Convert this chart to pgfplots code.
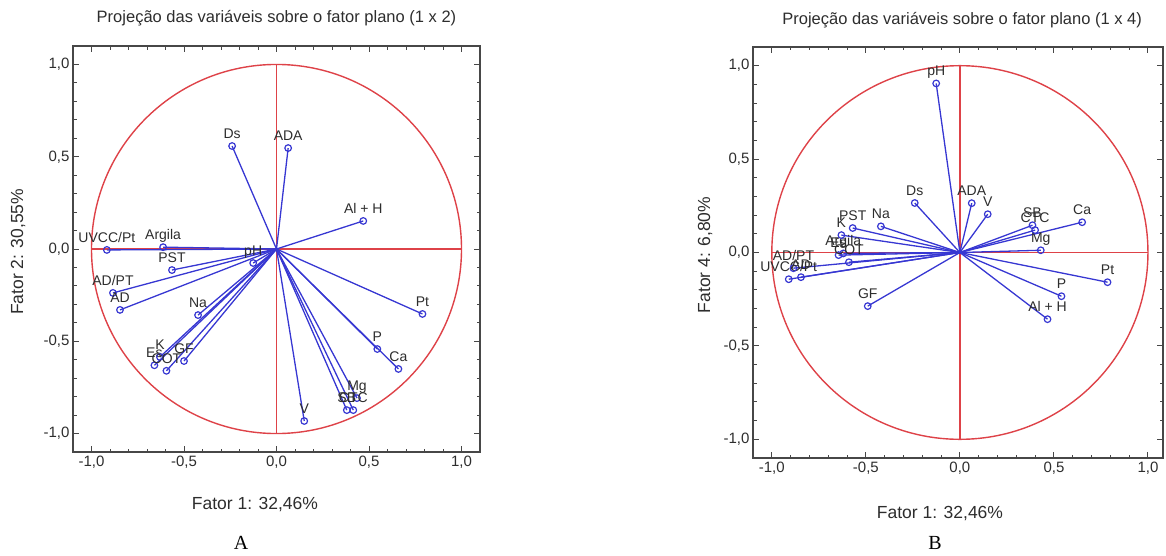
\documentclass[border=0pt]{standalone}
\usepackage{pgfplots}
\pgfplotsset{compat=1.18}
\usepackage{pgfplotstable}
\usepackage{fontspec}
\setmainfont{Liberation Sans}
\newfontfamily\serifA{Liberation Serif}

\definecolor{circred}{RGB}{222,66,72}
\definecolor{vecblue}{RGB}{55,55,210}
\definecolor{txtgray}{RGB}{45,45,45}

% Fator 1 x Fator 2
\pgfplotstableread{
label x y
UVCC/Pt -0.917 -0.005
Argila -0.613 0.010
PST -0.565 -0.114
AD/PT -0.884 -0.238
AD -0.846 -0.330
Na -0.424 -0.358
pH -0.126 -0.076
Es -0.660 -0.630
K -0.630 -0.585
COT -0.595 -0.660
GF -0.500 -0.607
Ds -0.240 0.558
ADA 0.063 0.547
{Al + H} 0.469 0.152
Pt 0.789 -0.352
P 0.545 -0.542
Ca 0.659 -0.650
V 0.150 -0.932
Mg 0.435 -0.808
SB 0.380 -0.873
CTC 0.415 -0.873
}\fatorA

% Fator 1 x Fator 4
\pgfplotstableread{
label x y
UVCC/Pt -0.910 -0.143
Argila -0.620 -0.005
PST -0.570 0.131
AD/PT -0.885 -0.084
AD -0.845 -0.132
Na -0.420 0.140
pH -0.126 0.905
Es -0.645 -0.014
K -0.630 0.093
COT -0.590 -0.052
GF -0.490 -0.287
Ds -0.240 0.265
ADA 0.063 0.264
{Al + H} 0.466 -0.357
Pt 0.785 -0.159
P 0.540 -0.234
Ca 0.650 0.162
V 0.148 0.205
Mg 0.430 0.012
SB 0.386 0.146
CTC 0.400 0.120
}\fatorB

\tikzset{refline/.style={draw=circred, line width=1.4pt}}

\pgfplotsset{
  pca/.style={
    scale only axis, anchor=south west, clip=false,
    axis line style={draw=black!72, line width=1.3pt},
    tick style={draw=black!72, line width=1pt},
    tick align=inside, major tick length=6pt, minor tick length=3.5pt,
    xtick={-1,-0.5,0,0.5,1}, ytick={-1,-0.5,0,0.5,1},
    xticklabels={{-1,0},{-0,5},{0,0},{0,5},{1,0}},
    yticklabels={{-1,0},{-0,5},{0,0},{0,5},{1,0}},
    minor tick num=4,
    ticklabel style={font=\fontsize{15}{15}\selectfont, text=txtgray},
    label style={font=\fontsize{17.5}{17.5}\selectfont, text=txtgray},
    title style={font=\fontsize{16.5}{16.5}\selectfont, text=txtgray, anchor=center},
    xlabel={Fator 1: 32,46\%},
  },
  vec/.style={draw=vecblue, line width=1.3pt, quiver={u=\thisrow{x}, v=\thisrow{y}}},
  pts/.style={only marks, mark=o, mark size=3.3pt, mark options={draw=vecblue, line width=1.2pt},
    nodes near coords, point meta=explicit symbolic,
    nodes near coords style={font=\fontsize{14}{14}\selectfont, text=txtgray,
      anchor=base, yshift=7.5pt, inner sep=0pt}},
}

\begin{document}
\begin{tikzpicture}
\path[use as bounding box] (0,0) rectangle (1166pt,555pt);

\begin{axis}[pca,
  at={(73pt,103pt)}, width=407pt, height=406pt,
  xmin=-1.1, xmax=1.1, ymin=-1.1, ymax=1.1,
  title={Projeção das variáveis sobre o fator plano (1 x 2)},
  title style={at={(axis description cs:0.5,1.053)}},
  ylabel={Fator 2: 30,55\%},
  ylabel style={at={(axis description cs:-0.135,0.493)}, anchor=center},
  xlabel style={at={(axis description cs:0.447,-0.130)}, anchor=center},
]
\draw[refline] (axis cs:0,0) ellipse [x radius=1, y radius=1];
\draw[refline] (axis cs:-1,0) -- (axis cs:1,0);
\draw[refline] (axis cs:0,-1) -- (axis cs:0,1);
\addplot[vec] table[x expr=0, y expr=0] {\fatorA};
\addplot[pts] table[x=x, y=y, meta=label] {\fatorA};
\node[font=\serifA\fontsize{20}{20}\selectfont, text=black] at (axis description cs:0.413,-0.225) {A};
\end{axis}

\begin{axis}[pca,
  at={(753pt,97pt)}, width=410pt, height=411pt,
  xmin=-1.1, xmax=1.08, ymin=-1.1, ymax=1.1,
  title={Projeção das variáveis sobre o fator plano (1 x 4)},
  title style={at={(axis description cs:0.51,1.050)}},
  ylabel={Fator 4: 6,80\%},
  ylabel style={at={(axis description cs:-0.117,0.494)}, anchor=center},
  xlabel style={at={(axis description cs:0.456,-0.134)}, anchor=center},
]
\draw[refline] (axis cs:0,0) ellipse [x radius=1, y radius=1];
\draw[refline] (axis cs:-1,0) -- (axis cs:1,0);
\draw[refline] (axis cs:0,-1) -- (axis cs:0,1);
\addplot[vec] table[x expr=0, y expr=0] {\fatorB};
\addplot[pts] table[x=x, y=y, meta=label] {\fatorB};
\node[font=\serifA\fontsize{20}{20}\selectfont, text=black] at (axis description cs:0.444,-0.207) {B};
\end{axis}
\end{tikzpicture}
\end{document}
